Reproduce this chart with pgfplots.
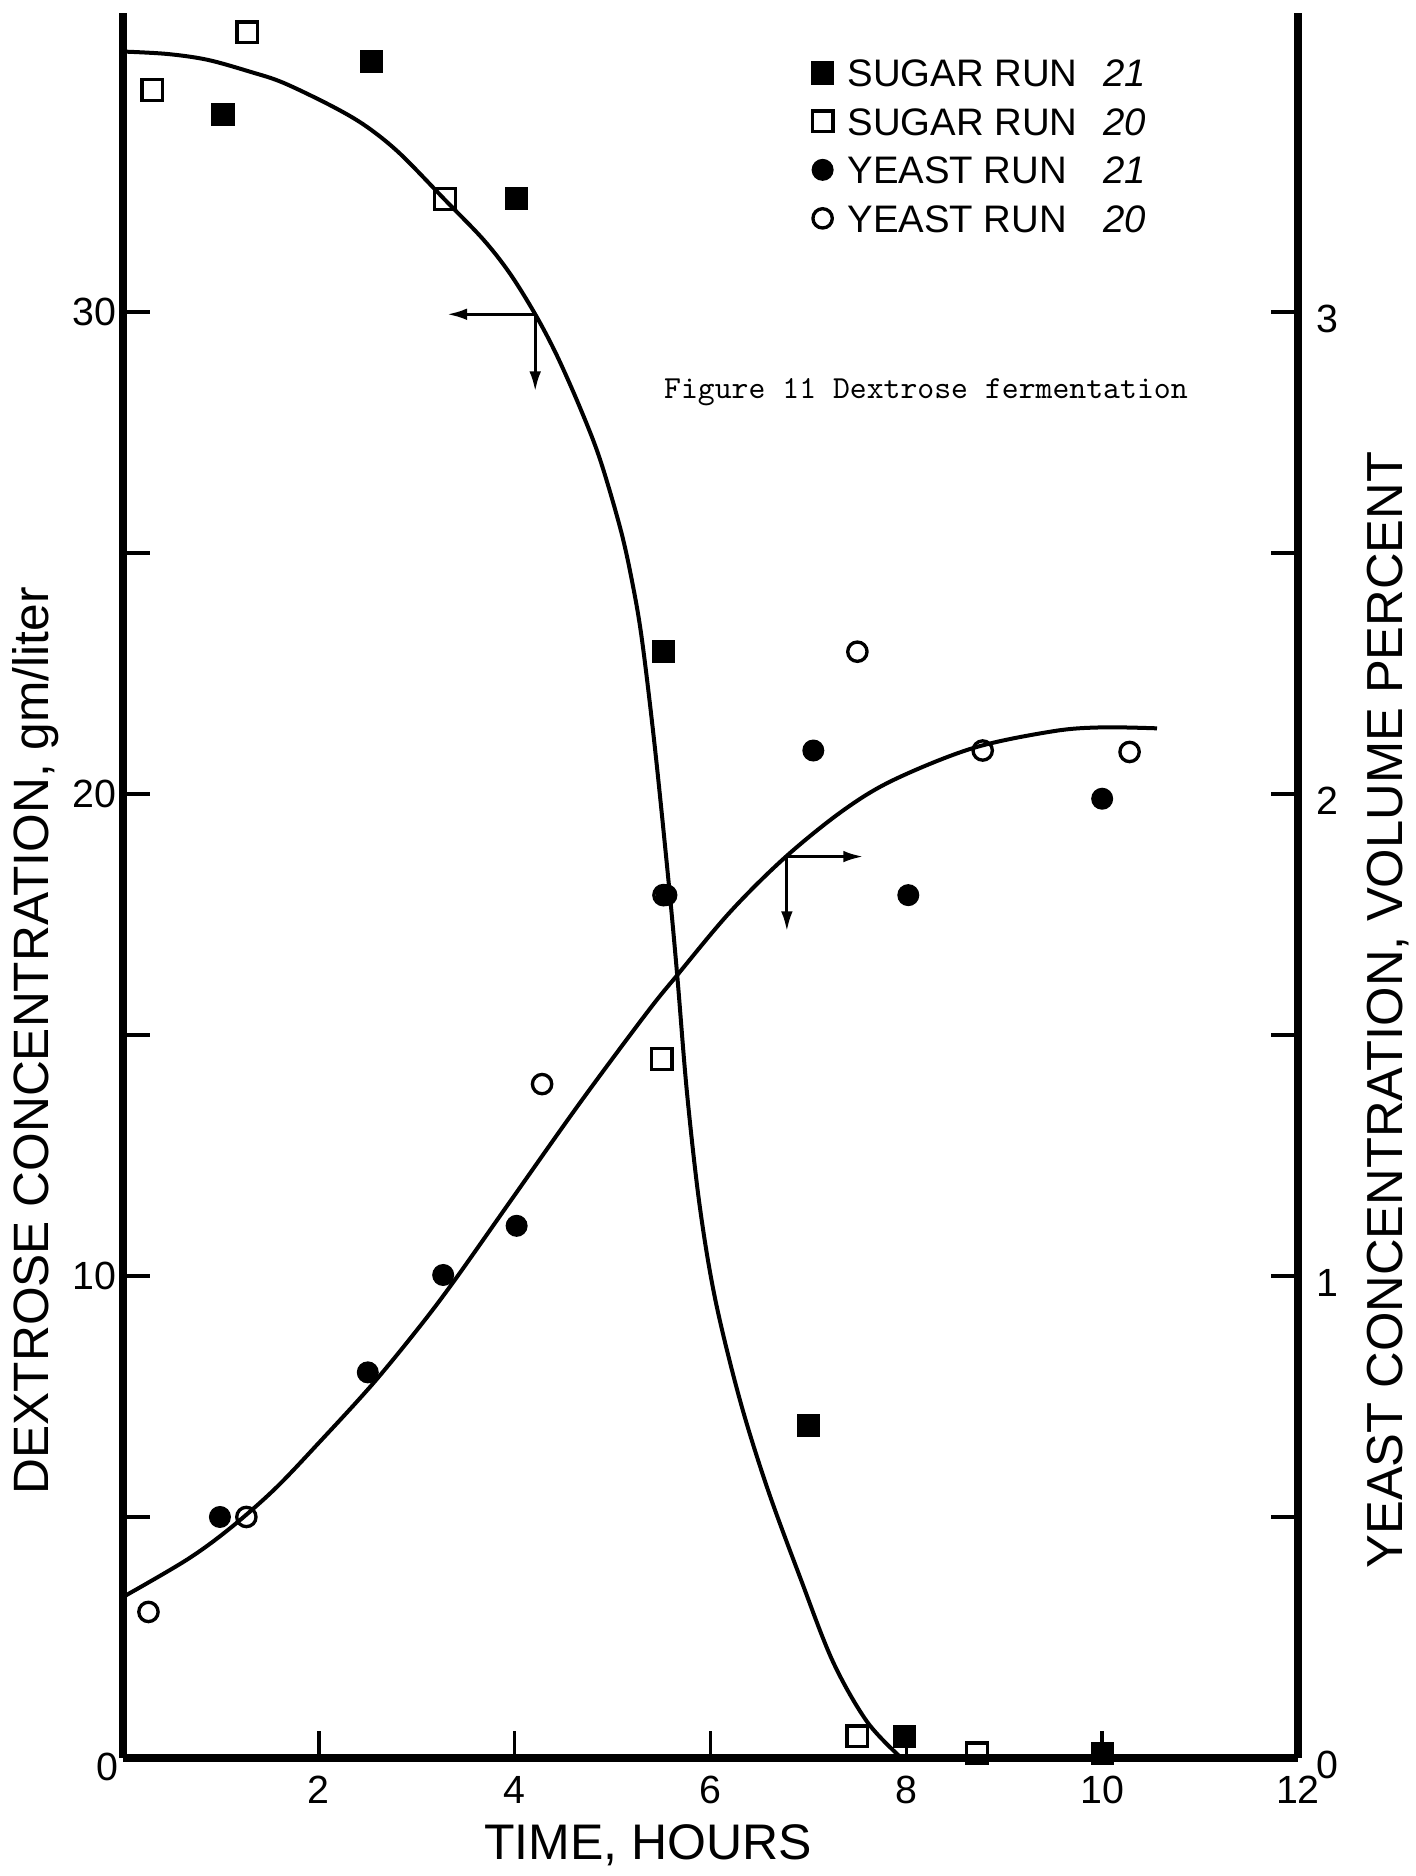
\documentclass[border=0pt]{standalone}
\usepackage{fontspec}
\setmainfont{Liberation Sans}
\usepackage{pgfplots}
\pgfplotsset{compat=1.18}
\usetikzlibrary{arrows.meta}
\tikzset{arr/.style={line width=0.9pt, -{Latex[length=6pt,width=3.5pt]}}}
\pgfplotsset{
  base/.style={
    width=352.5pt, height=523.5pt, scale only axis,
    xmin=0, xmax=12, clip=false,
    axis line style={line width=2.3pt},
    every outer x axis line/.append style={-},
    every outer y axis line/.append style={-},
    tick align=inside,
    major tick length=8pt,
    tick style={line width=1.1pt, black},
    /pgf/number format/assume math mode=true,
    ticklabel style={font=\fontsize{11.8}{13}\selectfont},
  },
  sA/.style={only marks, mark=square*, mark size=3.3pt, black, mark options={fill=black}},
  sB/.style={only marks, mark=square, mark size=3.1pt, black, mark options={line width=1pt}},
  yA/.style={only marks, mark=*, mark size=3.1pt, black, mark options={fill=black}},
  yB/.style={only marks, mark=o, mark size=2.9pt, black, mark options={line width=1pt}},
}
\begin{document}
\begin{tikzpicture}
% left axis: dextrose (sugar)
\begin{axis}[base,
  ymin=0, ymax=36.2,
  axis x line*=bottom, axis y line*=left,
  xtick={2,4,6,8,10,12},
  ytick={5,10,15,20,25,30}, yticklabels={,10,,20,,30},
  yticklabel style={xshift=1.5pt},
  xticklabel style={yshift=-2pt},
  xlabel={TIME, HOURS},
  ylabel={DEXTROSE CONCENTRATION, gm/liter},
  every axis x label/.style={at={(axis description cs:0.447,0)}, anchor=center, yshift=-26.1pt, font=\fontsize{15}{18}\selectfont},
  every axis y label/.style={at={(axis description cs:-0.074,0.411)}, anchor=center, rotate=90, font=\fontsize{14.9}{17}\selectfont},
]
\addplot[smooth, tension=0.55, line width=1.2pt, black, no marks] coordinates {
 (0,35.4) (0.45,35.35) (0.86,35.23) (1.3,34.98) (1.64,34.75) (2.15,34.25)
 (2.49,33.84) (2.83,33.28) (3.29,32.32) (3.68,31.5) (3.95,30.8) (4.21,29.95)
 (4.43,29.1) (4.67,28.0) (4.87,26.95) (5.08,25.5) (5.2,24.4) (5.3,23.2)
 (5.43,21.0) (5.57,18.22) (5.66,16.24) (5.76,13.8) (5.89,11.45) (6.05,9.5)
 (6.3,7.43) (6.58,5.6) (6.92,3.72) (7.25,2.0) (7.6,0.75) (7.95,0.0)};
\addplot[sA] coordinates {(1.02,34.1) (2.54,35.2) (4.02,32.35) (5.52,22.95) (7.0,6.9) (7.98,0.45) (10.0,0.1)};
\addplot[sB] coordinates {(0.3,34.6) (1.27,35.8) (3.29,32.34) (5.5,14.5) (7.5,0.45) (8.72,0.1)};
\draw[arr] (axis cs:4.21,29.95) -- (axis cs:3.31,29.95);
\draw[arr] (axis cs:4.21,29.95) -- (axis cs:4.21,28.35);
\node[font=\ttfamily\fontsize{9.65}{11}\selectfont] at (axis cs:8.2,28.34) {Figure 11 Dextrose fermentation};
\node[font=\fontsize{11.8}{13}\selectfont, xshift=-4.8pt, yshift=-2.7pt] at (axis cs:0,0) {0};
\end{axis}
% right axis: yeast
\begin{axis}[base,
  ymin=0, ymax=3.62,
  axis x line=none, axis y line*=right,
  ytick={0,0.5,1,1.5,2,2.5,3}, yticklabels={0,,1,,2,,3},
  yticklabel style={xshift=2pt, yshift=-2pt},
  ylabel={YEAST CONCENTRATION, VOLUME PERCENT},
  every axis y label/.style={at={(axis description cs:1.0766,0.4286)}, anchor=center, rotate=90, font=\fontsize{15.2}{17}\selectfont},
  legend cell align=left,
  legend image code/.code={\draw[#1] plot coordinates {(0pt,0pt)};},
  legend style={at={(rel axis cs:0.5855,0.974)}, anchor=north west, draw=none, fill=none, inner sep=0pt,
    font=\fontsize{11.5}{12}\selectfont, row sep=6.25pt,
    nodes={inner sep=0pt, text height=8.3pt, text depth=0pt},
    /tikz/every odd column/.append style={column sep=4.2pt}},
]
\addlegendimage{sA}\addlegendentry{\makebox[76.8pt][l]{SUGAR RUN}\textit{21}}
\addlegendimage{sB}\addlegendentry{\makebox[76.8pt][l]{SUGAR RUN}\textit{20}}
\addplot[smooth, tension=0.55, line width=1.2pt, black, no marks, forget plot] coordinates {
 (0,0.334) (0.65,0.411) (1.09,0.476) (1.55,0.558) (2.01,0.656) (2.55,0.776)
 (3.03,0.895) (3.39,0.992) (3.98,1.162) (4.67,1.36) (5.35,1.546) (5.66,1.624)
 (6.2,1.755) (6.76,1.868) (7.35,1.965) (7.87,2.029) (8.68,2.095) (9.5,2.13)
 (10.0,2.138) (10.56,2.136)};
\addplot[yA] coordinates {(0.99,0.50) (2.5,0.80) (3.27,1.002) (4.02,1.104) (5.55,1.79) (7.05,2.09) (8.02,1.79) (10.0,1.99)};
\addlegendentry{\makebox[76.8pt][l]{YEAST RUN}\textit{21}}
\addplot[yB] coordinates {(0.26,0.303) (1.26,0.50) (4.28,1.398) (5.52,1.79) (7.5,2.295) (8.78,2.09) (10.28,2.087)};
\addlegendentry{\makebox[76.8pt][l]{YEAST RUN}\textit{20}}
\draw[arr] (axis cs:6.78,1.87) -- (axis cs:7.56,1.87);
\draw[arr] (axis cs:6.78,1.87) -- (axis cs:6.78,1.715);
\end{axis}
\pgfresetboundingbox
\path[use as bounding box] (-36.9pt,-35.4pt) rectangle (387.9pt,527.4pt);
\end{tikzpicture}
\end{document}
